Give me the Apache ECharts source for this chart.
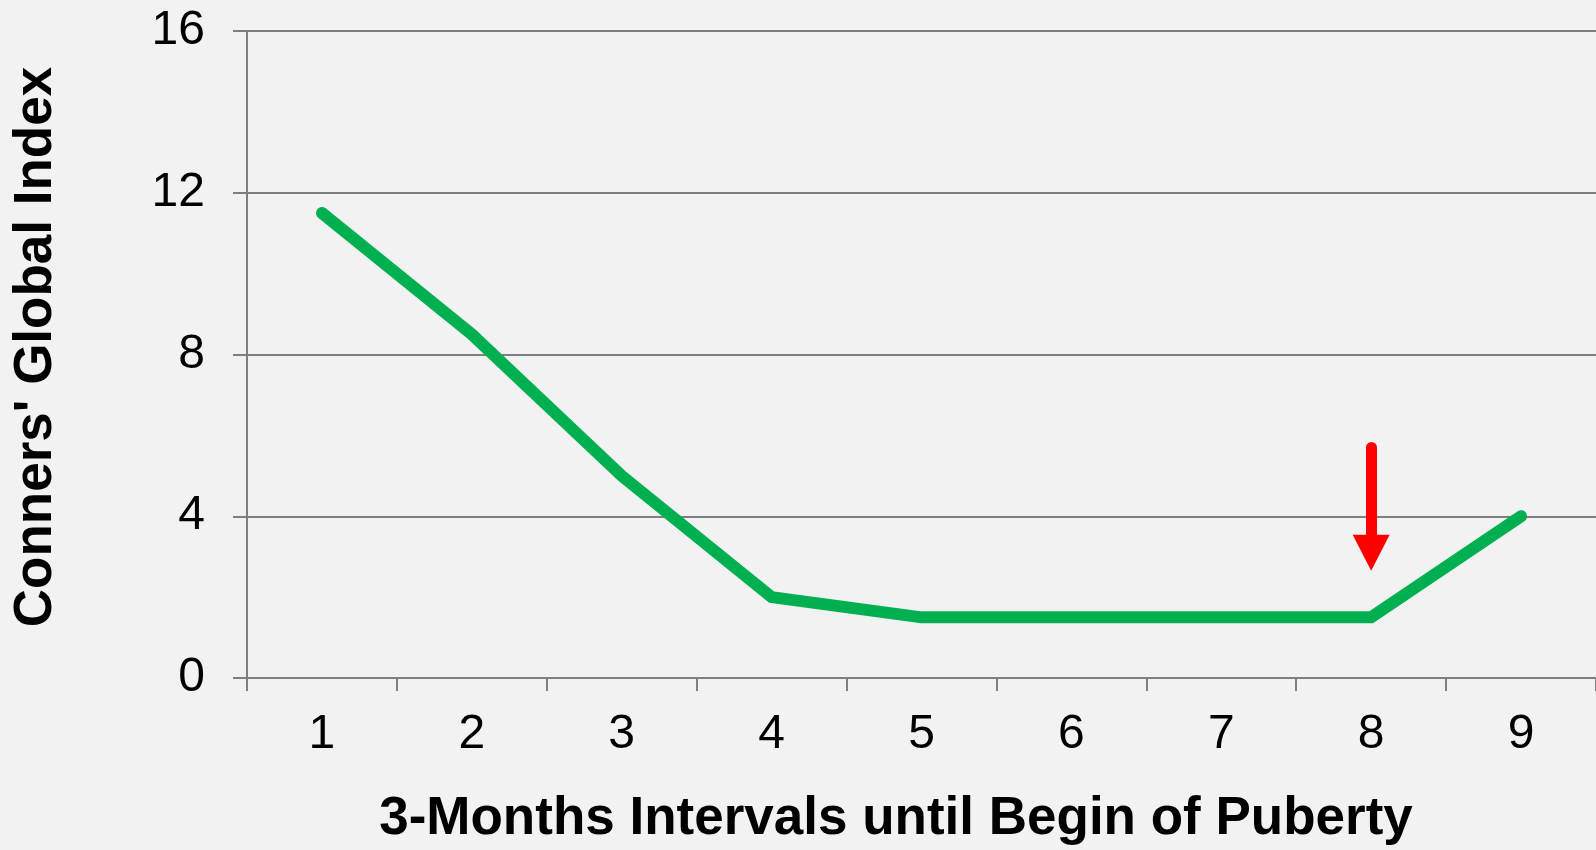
<!DOCTYPE html>
<html>
<head>
<meta charset="utf-8">
<script src="https://cdn.jsdelivr.net/npm/echarts@6/dist/echarts.min.js"></script>
<style>
  html, body { margin: 0; padding: 0; background: #f2f2f2; }
  #chart { width: 1596px; height: 850px; }
</style>
</head>
<body>
<div id="chart"></div>
<script>
// data
const categories = ['1', '2', '3', '4', '5', '6', '7', '8', '9']
const globalIndex = [11.5, 8.5, 5, 2, 1.5, 1.5, 1.5, 1.5, 4]
const yTicks = [0, 4, 8, 12, 16]
// red arrow marking begin of puberty (category, from value, to value)
const arrowAt = '8'
const arrowFrom = 5.7
const arrowTo = 3.1

const xTitle = '3-Months Intervals until Begin of Puberty'
const yTitle = "Conners' Global Index"

const chart = echarts.init(document.getElementById('chart'))

const gridColor = '#7f7f7f'
const font = '"Liberation Sans", Arial, sans-serif'

const option = {
  backgroundColor: '#f2f2f2',
  animation: false,
  grid: { left: 247, top: 31, right: 0, bottom: 172, containLabel: false },
  xAxis: {
    type: 'category',
    data: categories,
    boundaryGap: true,
    axisLine: { show: true, lineStyle: { color: gridColor, width: 2 } },
    axisTick: { show: true, length: 13, lineStyle: { color: gridColor, width: 2 } },
    axisLabel: { color: '#000', fontSize: 48, fontFamily: font, margin: 33 },
    splitLine: { show: false }
  },
  yAxis: {
    type: 'value',
    min: yTicks[0],
    max: yTicks[yTicks.length - 1],
    interval: yTicks[1] - yTicks[0],
    axisLine: { show: true, lineStyle: { color: gridColor, width: 2 } },
    axisTick: { show: true, length: 14, lineStyle: { color: gridColor, width: 2 } },
    axisLabel: { color: '#000', fontSize: 48, fontFamily: font, margin: 42 },
    splitLine: { show: true, lineStyle: { color: gridColor, width: 2 } }
  },
  graphic: [
    {
      type: 'text',
      x: 896, y: 819,
      style: {
        text: xTitle, fill: '#000', fontSize: 53, fontWeight: 'bold', fontFamily: font,
        align: 'center', verticalAlign: 'middle'
      }
    },
    {
      type: 'text',
      x: 36, y: 347,
      rotation: Math.PI / 2,
      style: {
        text: yTitle, fill: '#000', fontSize: 53, fontWeight: 'bold', fontFamily: font,
        align: 'center', verticalAlign: 'middle'
      }
    }
  ],
  series: [
    {
      type: 'line',
      data: globalIndex,
      symbol: 'none',
      lineStyle: { color: '#00b050', width: 12, cap: 'round', join: 'miter' },
      markLine: {
        silent: true,
        symbol: ['none', 'triangle'],
        symbolSize: [37, 36],
        label: { show: false },
        lineStyle: { color: '#ff0000', width: 11, type: 'solid', cap: 'round' },
        data: [[
          { coord: [arrowAt, arrowFrom] },
          { coord: [arrowAt, arrowTo] }
        ]]
      }
    }
  ]
}

chart.setOption(option)
window.addEventListener('resize', () => chart.resize())
</script>
</body>
</html>
